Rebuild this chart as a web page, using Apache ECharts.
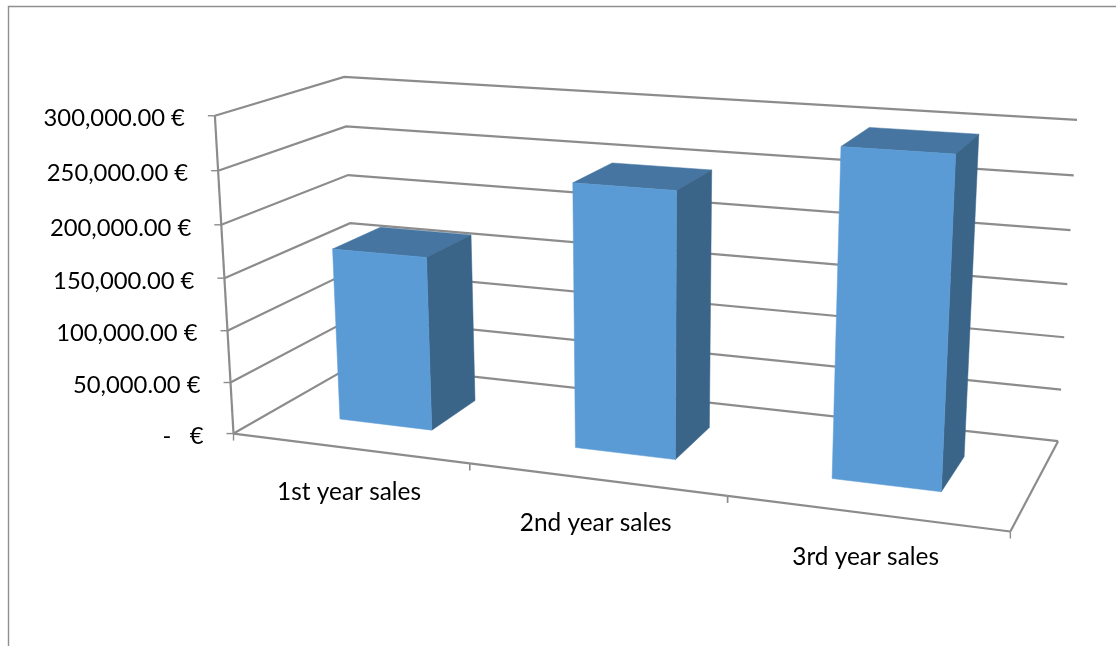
<!DOCTYPE html>
<html>
<head>
<meta charset="utf-8">
<style>html,body{margin:0;padding:0;background:#fff}#chart{width:1116px;height:646px}</style>
<script src="https://cdn.jsdelivr.net/npm/echarts@6/dist/echarts.min.js"></script>
</head>
<body>
<div id="chart"></div>
<script>
// Sales per year
const categories = ['1st year sales', '2nd year sales', '3rd year sales'];
const salesValues = [167000, 247000, 295000];
const tickValues = [0, 50000, 100000, 150000, 200000, 250000, 300000];
const tickLabels = ['-   €', '50,000.00 €', '100,000.00 €', '150,000.00 €', '200,000.00 €', '250,000.00 €', '300,000.00 €'];

// Camera: pairs of box position (along categories, up the values, into the depth) and screen point.
const cameraAnchors = [
  [0, 0, 0, 233, 433], [1, 0, 0, 1010, 532], [1, 0, 1, 1058, 441], [0, 0, 1, 356, 364],
  [0, 1, 0, 215, 116], [0, 1, 1, 344, 77], [1, 1, 1, 1077, 119.5],
  [1 / 3, 0, 0, 470, 463], [2 / 3, 0, 0, 728, 496]
];

function solveCamera(anchors) {
  const n = 11, N = [];
  for (let i = 0; i < n; i++) N.push(new Array(n + 1).fill(0));
  const addRow = (row, rhs) => {
    for (let i = 0; i < n; i++) {
      for (let j = 0; j < n; j++) N[i][j] += row[i] * row[j];
      N[i][n] += row[i] * rhs;
    }
  };
  anchors.forEach(([x, y, z, X, Y]) => {
    addRow([x, y, z, 1, 0, 0, 0, 0, -X * x, -X * y, -X * z], X);
    addRow([0, 0, 0, 0, x, y, z, 1, -Y * x, -Y * y, -Y * z], Y);
  });
  for (let c = 0; c < n; c++) {
    let p = c;
    for (let r = c + 1; r < n; r++) if (Math.abs(N[r][c]) > Math.abs(N[p][c])) p = r;
    [N[c], N[p]] = [N[p], N[c]];
    for (let r = 0; r < n; r++) {
      if (r === c) continue;
      const f = N[r][c] / N[c][c];
      for (let k = c; k <= n; k++) N[r][k] -= f * N[c][k];
    }
  }
  return N.map((row, i) => row[n] / row[i]);
}
const cam = solveCamera(cameraAnchors);
function project(u, v, d) {
  const w = cam[8] * u + cam[9] * v + cam[10] * d + 1;
  return [
    (cam[0] * u + cam[1] * v + cam[2] * d + cam[3]) / w,
    (cam[4] * u + cam[5] * v + cam[6] * d + cam[7]) / w
  ];
}

// Turns an axis-scaled pixel into box fractions, so scales stay with the cartesian axes.
function toBox(params, api, catIndex, value) {
  const sys = params.coordSys;
  const p = api.coord([catIndex, value]);
  return { u: (p[0] - sys.x) / sys.width, v: (sys.y + sys.height - p[1]) / sys.height, band: api.size([1, 0])[0] / sys.width };
}

const lineStyle = { stroke: '#8c8c8c', lineWidth: 2.2, fill: null };
const tickStyle = { stroke: '#8c8c8c', lineWidth: 1.4, fill: null };
const valueFont = '23.8px Lato, Carlito, sans-serif';
const categoryFont = '24.4px Lato, Carlito, sans-serif';

function polyline(points, style) {
  return { type: 'polyline', shape: { points }, style, silent: true };
}

// Gridlines across side and back walls, value ticks and value labels.
function renderGrid(params, api) {
  const { v } = toBox(params, api, 0, api.value(1));
  const front = project(0, v, 0);
  const children = [
    polyline([front, project(0, v, 1), project(1, v, 1)], lineStyle),
    polyline([[front[0] - 7, front[1]], front], tickStyle),
    { type: 'text', silent: true, style: {
      text: tickLabels[params.dataIndex], x: front[0] - 30, y: front[1] + 3,
      align: 'right', verticalAlign: 'middle', font: valueFont, fill: '#000'
    } }
  ];
  return { type: 'group', children };
}

// Floor outline, the vertical edge of the value wall, category ticks and category labels.
function renderFloor(params, api) {
  const { u, band } = toBox(params, api, api.value(0), 0);
  const left = u - band / 2, right = u + band / 2;
  const a = project(left, 0, 0), b = project(right, 0, 0), mid = project(u, 0, 0);
  const children = [
    polyline([a, b], lineStyle),
    polyline([a, [a[0], a[1] + 7]], tickStyle),
    polyline([b, [b[0], b[1] + 7]], tickStyle),
    { type: 'text', silent: true, style: {
      text: categories[params.dataIndex], x: mid[0], y: mid[1] + 44,
      align: 'center', verticalAlign: 'middle', font: categoryFont, fill: '#000'
    } }
  ];
  if (params.dataIndex === 0) children.push(polyline([project(0, 0, 0), project(0, 1, 0)], lineStyle));
  if (params.dataIndex === categories.length - 1) children.push(polyline([project(1, 0, 0), project(1, 0, 1)], lineStyle));
  return { type: 'group', children };
}

// One 3D column: front, top and right faces.
const gapShare = 0.6, depthFrom = 0.3, depthTo = 0.7;
function renderBar(params, api) {
  const { u, band } = toBox(params, api, api.value(0), 0);
  const { v } = toBox(params, api, api.value(0), api.value(1));
  const half = band * (1 - gapShare) / 2, l = u - half, r = u + half;
  const face = (points, color) => ({
    type: 'polygon', shape: { points }, style: { fill: color, stroke: color, lineWidth: 0.5 }
  });
  return { type: 'group', children: [
    face([project(l, v, depthFrom), project(l, v, depthTo), project(r, v, depthTo), project(r, v, depthFrom)], '#4575a0'),
    face([project(r, 0, depthFrom), project(r, v, depthFrom), project(r, v, depthTo), project(r, 0, depthTo)], '#3a6488'),
    face([project(l, 0, depthFrom), project(l, v, depthFrom), project(r, v, depthFrom), project(r, 0, depthFrom)], '#5b9bd5')
  ] };
}

const chart = echarts.init(document.getElementById('chart'), null, { renderer: 'canvas' });
chart.setOption({
  backgroundColor: '#fff',
  animation: false,
  grid: { left: 0, right: 0, top: 0, bottom: 0 },
  xAxis: { type: 'category', data: categories, show: false },
  yAxis: { type: 'value', min: 0, max: 300000, interval: 50000, show: false },
  graphic: [{
    type: 'polyline', silent: true,
    shape: { points: [[8.5, 646], [8.5, 6.5], [1116, 6.5]] },
    style: { stroke: '#8f8f8f', lineWidth: 1.4, fill: null }
  }],
  series: [
    { type: 'custom', clip: false, silent: true, data: tickValues.map(t => [0, t]), renderItem: renderGrid },
    { type: 'custom', clip: false, silent: true, data: categories.map((c, i) => [i, 0]), renderItem: renderFloor },
    { type: 'custom', clip: false, name: 'Sales', data: salesValues.map((s, i) => [i, s]), renderItem: renderBar }
  ]
});
</script>
</body>
</html>
